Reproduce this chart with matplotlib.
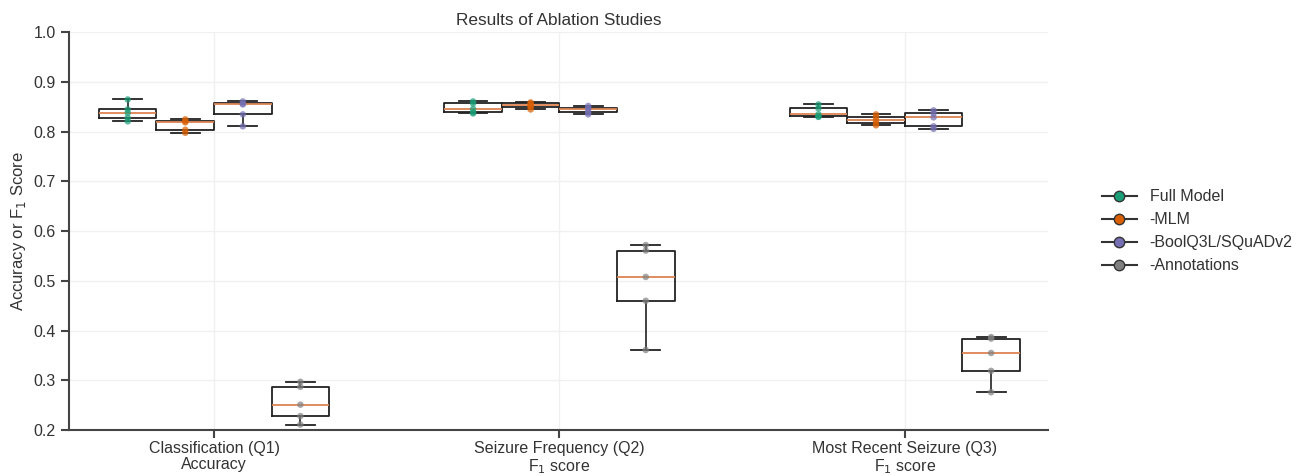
import numpy as np
import matplotlib
matplotlib.use("Agg")
import matplotlib.pyplot as plt
from matplotlib.lines import Line2D

plt.rcParams['font.family'] = ['Liberation Sans', 'DejaVu Sans']

# tasks on the x axis
tasks = ["Classification (Q1)\nAccuracy",
         "Seizure Frequency (Q2)\nF$_1$ score",
         "Most Recent Seizure (Q3)\nF$_1$ score"]
models = ["Full Model", "-MLM", "-BoolQ3L/SQuADv2", "-Annotations"]
colors = ["#1b9e77", "#d95f02", "#7570b3", "#808080"]

# per-run scores, one list per task
full_model = [[0.821, 0.828, 0.838, 0.845, 0.865],
              [0.837, 0.839, 0.846, 0.857, 0.861],
              [0.830, 0.831, 0.835, 0.847, 0.855]]
no_mlm = [[0.798, 0.804, 0.819, 0.821, 0.825],
          [0.845, 0.850, 0.853, 0.857, 0.859],
          [0.813, 0.817, 0.823, 0.830, 0.835]]
no_boolq = [[0.811, 0.835, 0.855, 0.857, 0.861],
            [0.835, 0.839, 0.845, 0.848, 0.852],
            [0.806, 0.811, 0.829, 0.837, 0.843]]
no_annotations = [[0.211, 0.228, 0.251, 0.287, 0.297],
                  [0.361, 0.460, 0.508, 0.561, 0.572],
                  [0.276, 0.319, 0.355, 0.384, 0.387]]
all_scores = [full_model, no_mlm, no_boolq, no_annotations]

fig = plt.figure(figsize=(13.02, 4.76), dpi=100)
ax = fig.add_axes([0.053, 0.0966, 0.752, 0.8354])

w = 1 / 6
offsets = (np.arange(len(models)) - 1.5) * w
for m, (scores, c) in enumerate(zip(all_scores, colors)):
    pos = np.arange(len(tasks)) + offsets[m]
    ax.boxplot(scores, positions=pos, widths=w, whis=(0, 100), showfliers=False,
               manage_ticks=False,
               boxprops=dict(color="#222222", lw=1.3),
               whiskerprops=dict(color="#333333", lw=1.3),
               capprops=dict(color="#222222", lw=1.3),
               medianprops=dict(color="#dd8452", lw=1.3))
    for p, vals in zip(pos, scores):
        ax.scatter([p] * len(vals), vals, s=22, color=c, alpha=0.7,
                   edgecolor="none", zorder=3)

ax.set_xlim(-0.42, 2.415)
ax.set_ylim(0.2, 1.0)
ax.set_xticks(range(len(tasks)))
ax.set_xticklabels(tasks, linespacing=1.05)
ax.set_yticks(np.arange(0.2, 1.01, 0.1))
ax.set_yticklabels([f"{v:.1f}" for v in np.arange(0.2, 1.01, 0.1)])
ax.grid(True, color="#f0f0f0", lw=1)
ax.set_axisbelow(True)
for s in ["top", "right"]:
    ax.spines[s].set_visible(False)
for s in ["left", "bottom"]:
    ax.spines[s].set_color("#444444")
    ax.spines[s].set_linewidth(1.5)
ax.tick_params(colors="#444444", labelcolor="#333333", labelsize=11.5, width=1.5, length=6)
ax.tick_params(axis="x", pad=2)
ax.set_ylabel("Accuracy or F$_1$ Score", fontsize=12, color="#333333")
ax.set_title("Results of Ablation Studies", fontsize=12.4, color="#333333", pad=5)

handles = [Line2D([0], [0], color="#333333", lw=1.5, marker="o", markersize=7.5,
                  markerfacecolor=c, markeredgecolor="#333333") for c in colors]
ax.legend(handles, models, loc="center left", bbox_to_anchor=(1.04, 0.5),
          frameon=False, fontsize=11.5, labelcolor="#333333", handlelength=2.2)

fig.savefig("out.png", dpi=100)
